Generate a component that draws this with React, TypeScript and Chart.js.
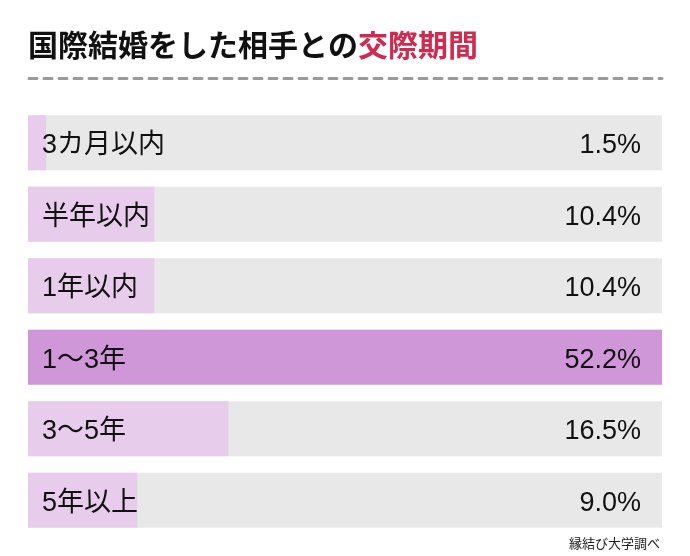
import React, { useEffect, useRef } from "react";
import { Chart, registerables } from "chart.js";

Chart.register(...registerables);

const titleMain = "国際結婚をした相手との";
const titleAccent = "交際期間";
const categories = ["3カ月以内", "半年以内", "1年以内", "1〜3年", "3〜5年", "5年以上"];
const values = [1.5, 10.4, 10.4, 52.2, 16.5, 9.0];
const valueLabels = ["1.5%", "10.4%", "10.4%", "52.2%", "16.5%", "9.0%"];
const highlightIndex = 3;
const scaleMax = 52.2;
const source = "縁結び大学調べ";

const FONT = "'Liberation Sans', 'Noto Sans CJK JP', sans-serif";

const overlayPlugin = {
  id: "overlay",
  afterDatasetsDraw(chart: any) {
    const ctx = chart.ctx as CanvasRenderingContext2D;
    const area = chart.chartArea;
    const meta = chart.getDatasetMeta(1);
    ctx.save();
    // title
    ctx.textBaseline = "middle";
    ctx.textAlign = "left";
    ctx.font = `bold 30px 'Noto Sans CJK JP', sans-serif`;
    ctx.fillStyle = "#111111";
    ctx.fillText(titleMain, 28, 45);
    const w = ctx.measureText(titleMain).width;
    ctx.fillStyle = "#d12a50";
    ctx.fillText(titleAccent, 28 + w, 45);
    // dashed line
    ctx.strokeStyle = "#9a9a9a";
    ctx.lineWidth = 3;
    ctx.lineCap = "round";
    ctx.setLineDash([8, 7]);
    ctx.beginPath();
    ctx.moveTo(area.left + 1, 78.5);
    ctx.lineTo(area.right, 78.5);
    ctx.stroke();
    ctx.setLineDash([]);
    // labels
    ctx.font = `27px ${FONT}`;
    ctx.fillStyle = "#111111";
    meta.data.forEach((bar: any, i: number) => {
      const y = bar.y + 3;
      ctx.textAlign = "left";
      ctx.fillText(categories[i], area.left + 14, y);
      ctx.textAlign = "right";
      ctx.fillText(valueLabels[i], area.right - 21, y);
    });
    // source
    ctx.font = `13px 'Noto Sans CJK JP', sans-serif`;
    ctx.fillStyle = "#222222";
    ctx.textAlign = "right";
    ctx.fillText(source, area.right - 2, 543);
    ctx.restore();
  },
};

export default function App() {
  const ref = useRef<HTMLCanvasElement | null>(null);
  useEffect(() => {
    if (!ref.current) return;
    const chart = new Chart(ref.current, {
      type: "bar",
      data: {
        labels: categories,
        datasets: [
          {
            label: "値",
            data: values,
            backgroundColor: values.map((_, i) => (i === highlightIndex ? "#cf97d8" : "#e8cceb")),
            order: 0,
            grouped: false,
            barPercentage: 0.768,
            categoryPercentage: 1,
          } as any,
          {
            label: "背景",
            data: categories.map(() => scaleMax),
            backgroundColor: "#e8e8e8",
            order: 1,
            grouped: false,
            barPercentage: 0.768,
            categoryPercentage: 1,
          } as any,
        ],
      },
      options: {
        indexAxis: "y",
        animation: false,
        responsive: false,
        maintainAspectRatio: false,
        layout: { padding: { left: 28, right: 28, top: 107, bottom: 20 } },
        scales: {
          x: { display: false, min: 0, max: scaleMax },
          y: { display: false },
        },
        plugins: {
          legend: { display: false },
          tooltip: { enabled: false },
          title: { display: false },
        },
      },
      plugins: [overlayPlugin],
    });
    return () => chart.destroy();
  }, []);
  return (
    <div style={{ position: "absolute", left: 0, top: 0, width: 690, height: 556, background: "#ffffff" }}>
      <canvas ref={ref} width={690} height={556} style={{ width: 690, height: 556 }} />
    </div>
  );
}
